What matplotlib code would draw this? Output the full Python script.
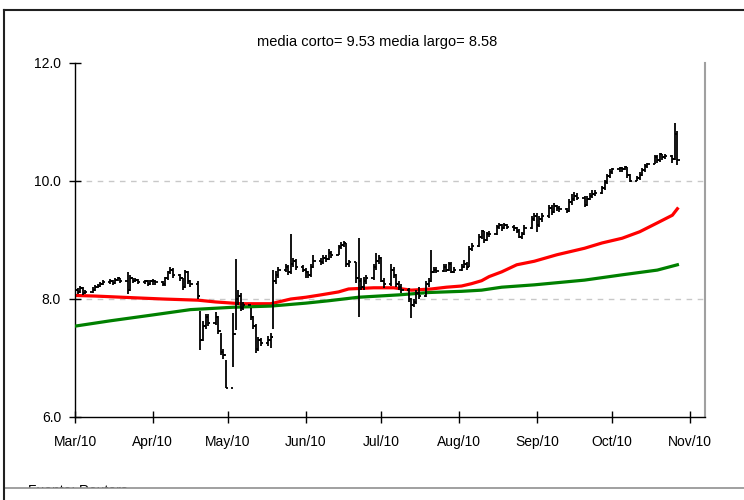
import pandas as pd
import matplotlib.pyplot as plt
import matplotlib.dates as mdates
from matplotlib.lines import Line2D
from matplotlib.patches import Rectangle

plt.rcParams['font.family'] = ['Liberation Sans', 'DejaVu Sans']
plt.rcParams['font.size'] = 10

# daily bars, one list per month (close / high / low)
close_mar = [8.15, 8.12, 8.18, 8.10, 8.12, 8.15, 8.20, 8.22, 8.25, 8.28, 8.30, 8.27,
             8.32, 8.35, 8.30, 8.15, 8.35, 8.30, 8.33, 8.28, 8.30, 8.25, 8.30]
high_mar = [8.22, 8.18, 8.22, 8.20, 8.16, 8.20, 8.24, 8.26, 8.28, 8.32, 8.34, 8.32,
            8.35, 8.38, 8.36, 8.45, 8.40, 8.36, 8.36, 8.34, 8.33, 8.32, 8.33]
low_mar = [8.10, 8.08, 8.10, 8.06, 8.08, 8.10, 8.14, 8.18, 8.20, 8.23, 8.26, 8.24,
           8.26, 8.30, 8.27, 8.08, 8.14, 8.27, 8.28, 8.25, 8.26, 8.22, 8.24]

close_apr = [8.30, 8.28, 8.25, 8.35, 8.45, 8.50, 8.40, 8.35, 8.20, 8.45, 8.30, 8.25,
             8.05, 7.30, 7.55, 7.70, 7.60, 7.70, 7.45, 7.10, 7.05, 6.50]
high_apr = [8.34, 8.33, 8.30, 8.38, 8.48, 8.55, 8.52, 8.42, 8.36, 8.50, 8.48, 8.32,
            8.30, 7.80, 7.62, 7.75, 7.74, 7.78, 7.72, 7.42, 7.15, 6.97]
low_apr = [8.24, 8.24, 8.22, 8.22, 8.33, 8.42, 8.36, 8.30, 8.15, 8.18, 8.26, 8.20,
           8.00, 7.14, 7.28, 7.50, 7.55, 7.56, 7.40, 7.05, 6.98, 6.49]

close_may = [7.40, 8.00, 8.05, 7.85, 7.90, 7.70, 7.55, 7.15, 7.30, 7.25, 7.30, 7.35,
             8.30, 8.40, 8.50, 8.55, 8.45, 8.60, 8.65, 8.55, 8.50]
high_may = [7.76, 8.68, 8.15, 8.10, 7.95, 7.85, 7.72, 7.58, 7.35, 7.34, 7.38, 7.42,
            8.50, 8.48, 8.55, 8.60, 8.58, 9.10, 8.70, 8.68, 8.58]
low_may = [6.85, 7.47, 7.90, 7.80, 7.82, 7.65, 7.50, 7.08, 7.12, 7.20, 7.20, 7.17,
           7.50, 8.25, 8.36, 8.45, 8.40, 8.42, 8.55, 8.50, 8.45]

close_jun = [8.45, 8.40, 8.55, 8.65, 8.62, 8.70, 8.68, 8.78, 8.75, 8.88, 8.92, 8.95,
             8.60, 8.62, 8.35, 8.30, 8.20, 8.30, 8.35, 8.55, 8.65, 8.70]
high_jun = [8.53, 8.48, 8.60, 8.75, 8.70, 8.75, 8.74, 8.84, 8.82, 8.92, 8.97, 8.98,
            8.95, 8.66, 8.62, 9.03, 8.35, 8.38, 8.40, 8.60, 8.78, 8.75]
low_jun = [8.36, 8.35, 8.38, 8.52, 8.58, 8.60, 8.63, 8.66, 8.70, 8.74, 8.85, 8.88,
           8.54, 8.54, 8.27, 7.70, 8.15, 8.16, 8.26, 8.32, 8.50, 8.60]

close_jul = [8.30, 8.25, 8.50, 8.40, 8.25, 8.20, 8.15, 8.00, 7.90, 7.95, 8.10, 8.05,
             8.25, 8.30, 8.45, 8.50, 8.48, 8.55, 8.50, 8.60, 8.45, 8.50]
high_jul = [8.72, 8.35, 8.60, 8.55, 8.42, 8.30, 8.25, 8.18, 8.02, 8.00, 8.15, 8.20,
            8.30, 8.35, 8.83, 8.55, 8.54, 8.60, 8.60, 8.63, 8.62, 8.55]
low_jul = [8.28, 8.18, 8.22, 8.36, 8.20, 8.15, 8.10, 7.95, 7.68, 7.86, 7.92, 8.00,
           8.03, 8.20, 8.28, 8.44, 8.44, 8.46, 8.46, 8.48, 8.44, 8.44]

close_aug = [8.55, 8.60, 8.55, 8.85, 8.90, 9.05, 9.15, 9.00, 9.10, 9.10, 9.22, 9.25,
             9.20, 9.25, 9.22, 9.20, 9.15, 9.05, 9.10, 9.20, 9.35, 9.40]
high_aug = [8.60, 8.66, 8.62, 8.90, 8.95, 9.10, 9.17, 9.15, 9.14, 9.15, 9.26, 9.29,
            9.27, 9.28, 9.27, 9.25, 9.22, 9.18, 9.14, 9.25, 9.40, 9.45]
low_aug = [8.48, 8.52, 8.50, 8.55, 8.82, 8.88, 9.02, 8.95, 8.98, 9.05, 9.08, 9.18,
           9.16, 9.18, 9.18, 9.16, 9.12, 9.03, 9.02, 9.08, 9.18, 9.32]

close_sep = [9.25, 9.35, 9.40, 9.55, 9.48, 9.58, 9.55, 9.52, 9.50, 9.65, 9.70, 9.75,
             9.72, 9.60, 9.70, 9.75, 9.78, 9.80, 9.88, 9.98, 10.08, 10.15]
high_sep = [9.45, 9.40, 9.45, 9.60, 9.60, 9.63, 9.60, 9.58, 9.55, 9.70, 9.78, 9.81,
            9.80, 9.75, 9.75, 9.80, 9.85, 9.85, 9.92, 10.02, 10.12, 10.20]
low_sep = [9.14, 9.22, 9.30, 9.38, 9.42, 9.45, 9.50, 9.48, 9.46, 9.48, 9.60, 9.66,
           9.68, 9.56, 9.58, 9.68, 9.72, 9.75, 9.78, 9.85, 9.95, 10.05]

close_oct = [10.20, 10.22, 10.20, 10.24, 10.10, 10.00, 10.05, 10.10, 10.18, 10.25,
             10.28, 10.40, 10.35, 10.45, 10.40, 10.42, 10.38, 10.80, 10.35]
high_oct = [10.22, 10.24, 10.24, 10.26, 10.24, 10.12, 10.08, 10.15, 10.22, 10.28,
            10.30, 10.44, 10.44, 10.47, 10.46, 10.45, 10.44, 10.98, 10.85]
low_oct = [10.12, 10.16, 10.16, 10.18, 10.05, 9.98, 10.00, 10.02, 10.08, 10.16,
           10.22, 10.28, 10.30, 10.33, 10.36, 10.38, 10.30, 10.35, 10.27]

first_open = 8.20

# moving averages (short = red, long = green), read at a few dates
ma_short_dates = ['2010-03-01', '2010-03-09', '2010-03-25', '2010-04-05', '2010-04-19',
                  '2010-04-26', '2010-05-06', '2010-05-18', '2010-05-26', '2010-06-01',
                  '2010-06-07', '2010-06-14', '2010-06-18', '2010-06-28', '2010-07-06',
                  '2010-07-13', '2010-07-21', '2010-07-27', '2010-08-02', '2010-08-06',
                  '2010-08-10', '2010-08-13', '2010-08-18', '2010-08-24', '2010-08-31',
                  '2010-09-09', '2010-09-20', '2010-09-27', '2010-10-05', '2010-10-12',
                  '2010-10-19', '2010-10-25', '2010-10-27']
ma_short = [8.06, 8.05, 8.02, 8.00, 7.98, 7.95, 7.92, 7.92, 8.00, 8.03,
            8.07, 8.12, 8.17, 8.19, 8.19, 8.15, 8.17, 8.20, 8.22, 8.26,
            8.31, 8.38, 8.46, 8.58, 8.64, 8.75, 8.86, 8.95, 9.03, 9.14,
            9.29, 9.42, 9.53]

ma_long_dates = ['2010-03-01', '2010-03-15', '2010-04-01', '2010-04-16', '2010-05-03',
                 '2010-05-18', '2010-06-01', '2010-06-10', '2010-06-22', '2010-07-08',
                 '2010-07-20', '2010-08-02', '2010-08-10', '2010-08-18', '2010-08-31',
                 '2010-09-20', '2010-10-05', '2010-10-19', '2010-10-27']
ma_long = [7.54, 7.63, 7.73, 7.82, 7.86, 7.88, 7.93, 7.97, 8.03, 8.07,
           8.11, 8.13, 8.15, 8.20, 8.24, 8.32, 8.41, 8.49, 8.58]

grid_levels = [8.0, 10.0]
y_ticks = [6.0, 8.0, 10.0, 12.0]
title = 'media corto= 9.53 media largo= 8.58'
source = 'Fuente: Reuters'

dates = pd.bdate_range('2010-03-01', '2010-10-27')
close = close_mar + close_apr + close_may + close_jun + close_jul + close_aug + close_sep + close_oct
high = high_mar + high_apr + high_may + high_jun + high_jul + high_aug + high_sep + high_oct
low = low_mar + low_apr + low_may + low_jun + low_jul + low_aug + low_sep + low_oct
opens = [first_open] + close[:-1]

fig = plt.figure(figsize=(7.44, 5.0), dpi=100)
ax = fig.add_axes([75 / 744, 83 / 500, 630 / 744, 354 / 500])

for lvl in grid_levels:
    ax.axhline(lvl, color='#c8c8c8', lw=1, ls=(0, (4, 4)), zorder=1)

ax.plot(pd.to_datetime(ma_short_dates), ma_short, color='#ff0000', lw=2.3, zorder=2)
ax.plot(pd.to_datetime(ma_long_dates), ma_long, color='#008000', lw=2.3, zorder=3)

tick = pd.Timedelta(hours=22)
ax.vlines(dates, low, high, color='black', lw=1.3, zorder=4)
ax.hlines(opens, dates - tick, dates, color='black', lw=1.3, zorder=4)
ax.hlines(close, dates, dates + tick, color='black', lw=1.3, zorder=4)

ax.set_xlim(pd.Timestamp('2010-03-01'), pd.Timestamp('2010-11-07'))
ax.set_ylim(6, 12)
ax.set_yticks(y_ticks)
ax.set_yticklabels(['%.1f' % v for v in y_ticks])
ax.xaxis.set_major_locator(mdates.MonthLocator())
ax.xaxis.set_major_formatter(mdates.DateFormatter('%b/%y'))
ax.tick_params(direction='inout', length=8, width=1, colors='black', labelsize=10)
ax.tick_params(axis='y', pad=6)
ax.tick_params(axis='x', pad=9)

ax.spines['top'].set_visible(False)
ax.spines['right'].set_color('#a0a0a0')
ax.spines['right'].set_linewidth(1.5)
ax.spines['left'].set_linewidth(1)
ax.spines['bottom'].set_linewidth(1)

fig.text(377 / 744, 1 - 42 / 500, title, ha='center', va='center', fontsize=10.5)

# window frame and cut-off source line at the bottom
fig.text(28 / 744, 1 - 484 / 500, source, ha='left', va='top', fontsize=10)
fig.add_artist(Rectangle((0, 0), 1, 12 / 500, transform=fig.transFigure,
                         facecolor='white', edgecolor='none', zorder=5))
fig.add_artist(Line2D([4 / 744, 1], [12 / 500, 12 / 500], transform=fig.transFigure,
                      color='#909090', lw=1.2, zorder=6))
fig.add_artist(Line2D([4 / 744, 1], [490 / 500, 490 / 500], transform=fig.transFigure,
                      color='#202020', lw=1.5, zorder=6))
fig.add_artist(Line2D([4 / 744, 4 / 744], [0, 490 / 500], transform=fig.transFigure,
                      color='#202020', lw=1.5, zorder=6))

plt.savefig('out.png', dpi=100)
plt.close()
